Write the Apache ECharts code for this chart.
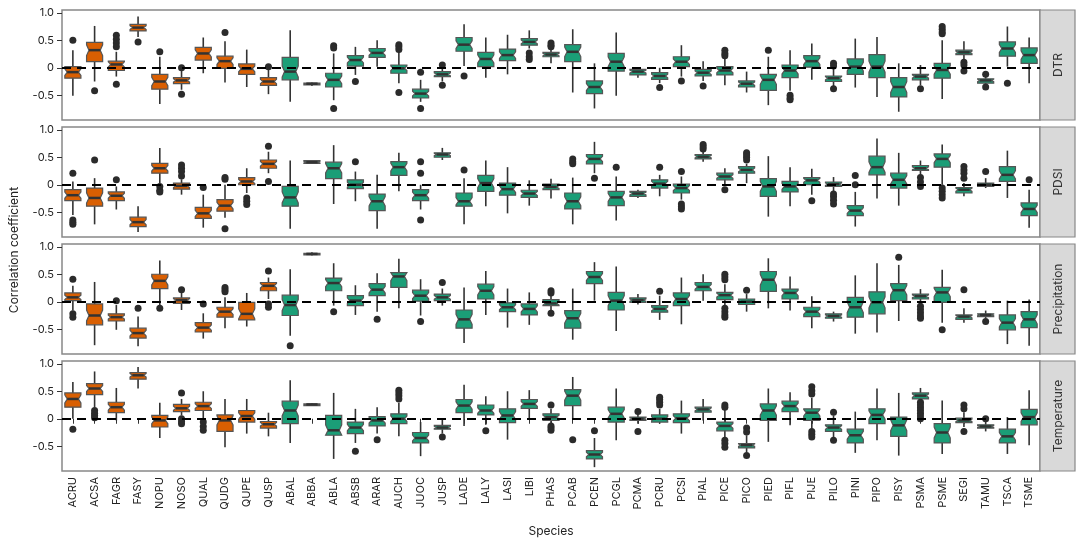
<!DOCTYPE html>
<html><head><meta charset="utf-8">
<script src="https://cdn.jsdelivr.net/npm/echarts@6/dist/echarts.min.js"></script>
<style>html,body{margin:0;padding:0;background:#fff}#c{width:1080px;height:545px}</style>
</head><body><div id="c"></div>
<script>
const species=["ACRU","ACSA","FAGR","FASY","NOPU","NOSO","QUAL","QUDG","QUPE","QUSP","ABAL","ABBA","ABLA","ABSB","ARAR","AUCH","JUOC","JUSP","LADE","LALY","LASI","LIBI","PHAS","PCAB","PCEN","PCGL","PCMA","PCRU","PCSI","PIAL","PICE","PICO","PIED","PIFL","PIJE","PILO","PINI","PIPO","PISY","PSMA","PSME","SEGI","TAMU","TSCA","TSME"];
const angiospermCount=10;
const facets=["DTR","PDSI","Precipitation","Temperature"];
const yTicks=[-0.5,0,0.5,1.0];

// [min, q1, median, q3, max] per species
const dtrStats=[[-0.51,-0.19,-0.08,0.02,0.32],[-0.25,0.11,0.32,0.46,0.76],[-0.16,-0.05,0.06,0.12,0.29],[0.56,0.67,0.73,0.79,0.93],[-0.66,-0.39,-0.25,-0.12,0.2],[-0.4,-0.29,-0.23,-0.18,-0.03],[-0.1,0.14,0.26,0.37,0.55],[-0.27,-0.01,0.12,0.21,0.48],[-0.35,-0.12,-0.02,0.07,0.33],[-0.48,-0.32,-0.25,-0.18,-0.04],[-0.62,-0.22,-0.07,0.19,0.68],[-0.33,-0.31,-0.29,-0.28,-0.27],[-0.59,-0.35,-0.22,-0.1,0.26],[-0.13,0.03,0.14,0.22,0.38],[0.02,0.19,0.27,0.35,0.5],[-0.28,-0.1,-0.01,0.05,0.29],[-0.62,-0.55,-0.47,-0.39,-0.22],[-0.25,-0.16,-0.12,-0.07,0.03],[0.03,0.3,0.42,0.55,0.79],[-0.18,0.02,0.16,0.28,0.55],[-0.12,0.13,0.23,0.34,0.6],[0.35,0.41,0.47,0.53,0.68],[0.08,0.2,0.24,0.28,0.33],[-0.45,0.11,0.29,0.42,0.7],[-0.74,-0.47,-0.35,-0.24,0.08],[-0.51,-0.06,0.11,0.26,0.64],[-0.18,-0.13,-0.07,-0.03,0.0],[-0.28,-0.21,-0.15,-0.09,0.0],[-0.16,0.02,0.11,0.2,0.41],[-0.24,-0.15,-0.09,-0.03,0.12],[-0.32,-0.13,-0.05,0.02,0.17],[-0.45,-0.35,-0.29,-0.24,-0.07],[-0.68,-0.41,-0.22,-0.12,0.2],[-0.42,-0.18,-0.05,0.05,0.32],[-0.22,0.01,0.12,0.22,0.44],[-0.35,-0.25,-0.19,-0.15,0.0],[-0.36,-0.12,0.02,0.16,0.53],[-0.53,-0.18,0.02,0.24,0.56],[-0.8,-0.53,-0.35,-0.18,0.08],[-0.32,-0.22,-0.16,-0.12,0.05],[-0.57,-0.19,-0.04,0.08,0.5],[0.15,0.24,0.28,0.32,0.48],[-0.3,-0.28,-0.23,-0.2,-0.16],[0.02,0.21,0.35,0.47,0.75],[-0.28,0.08,0.23,0.36,0.55]];
const dtrOut=[[0.5],[-0.42],[0.59,0.52,0.45,0.38,-0.3],[0.47],[0.29],[0.0,-0.48],[],[0.64],[],[0.02],[],[],[0.4,0.36,-0.74],[-0.25],[],[0.42,0.38,0.33,-0.45],[-0.08,-0.74],[0.05,-0.32],[-0.15],[],[],[0.27,0.2,0.15],[0.45,0.41,0.38],[],[],[],[],[-0.36],[-0.24],[-0.33],[0.32,0.26,0.22],[],[0.32],[-0.5,-0.55,-0.58],[],[0.08,0.03,-0.38],[],[],[],[-0.38],[0.75,0.7,0.65,0.62],[0.1,0.05,-0.06],[-0.12,-0.35],[-0.28],[]];

const pdsiStats=[[-0.55,-0.29,-0.19,-0.09,0.06],[-0.72,-0.39,-0.24,-0.06,0.12],[-0.45,-0.29,-0.2,-0.13,-0.03],[-0.86,-0.76,-0.68,-0.59,-0.39],[0.03,0.21,0.3,0.39,0.67],[-0.18,-0.08,-0.02,0.03,0.1],[-0.78,-0.61,-0.52,-0.41,-0.18],[-0.6,-0.48,-0.38,-0.27,0.0],[-0.15,0.0,0.06,0.13,0.3],[0.21,0.3,0.38,0.45,0.6],[-0.8,-0.39,-0.23,-0.03,0.44],[0.38,0.39,0.41,0.44,0.45],[-0.35,0.11,0.3,0.41,0.72],[-0.3,-0.07,0,0.09,0.24],[-0.8,-0.47,-0.3,-0.17,0.18],[-0.12,0.17,0.32,0.42,0.58],[-0.45,-0.29,-0.19,-0.09,0.0],[0.45,0.5,0.55,0.58,0.67],[-0.72,-0.39,-0.3,-0.15,0.12],[-0.39,-0.12,0.03,0.17,0.44],[-0.52,-0.19,-0.08,0.03,0.32],[-0.38,-0.23,-0.16,-0.1,0.08],[-0.25,-0.09,-0.04,0.01,0.11],[-0.72,-0.44,-0.3,-0.15,0.13],[0.21,0.38,0.47,0.55,0.78],[-0.65,-0.38,-0.23,-0.12,0.15],[-0.24,-0.21,-0.16,-0.12,-0.09],[-0.21,-0.06,0.02,0.09,0.18],[-0.27,-0.15,-0.06,0.01,0.15],[0.42,0.47,0.51,0.55,0.6],[0.0,0.09,0.15,0.21,0.3],[0.03,0.21,0.27,0.33,0.38],[-0.58,-0.21,-0.03,0.11,0.52],[-0.39,-0.13,-0.03,0.06,0.32],[-0.18,0,0.08,0.13,0.29],[-0.12,-0.03,0.01,0.05,0.14],[-0.76,-0.56,-0.47,-0.38,-0.13],[-0.25,0.18,0.32,0.52,0.84],[-0.38,-0.06,0.09,0.21,0.58],[0.18,0.26,0.3,0.35,0.44],[0.0,0.32,0.47,0.56,0.73],[-0.21,-0.15,-0.09,-0.05,0.03],[-0.06,-0.03,0,0.03,0.12],[-0.24,0.06,0.18,0.33,0.62],[-0.78,-0.56,-0.44,-0.33,-0.09]];
const pdsiOut=[[0.21,-0.64,-0.68,-0.72],[0.45],[0.09],[],[-0.03,-0.1,-0.13],[0.36,0.3,0.24,0.16],[-0.05],[0.1,0.13,-0.8],[-0.24,-0.3,-0.36],[0.7,0.06],[],[],[],[0.42],[],[],[0.42,0.21,-0.64],[],[0.27],[],[],[],[],[0.47,0.42,0.38],[0.12],[0.32],[],[0.32],[0.24,-0.35,-0.4,-0.44],[0.73,0.69,0.65],[-0.09],[0.58,0.54,0.5,0.45],[],[],[-0.29],[-0.17,-0.22,-0.28,-0.35],[0.17,0.0],[],[],[0.13,0.05,-0.03],[-0.06,-0.12,-0.18,-0.24],[0.33,0.27,0.21,0.12],[0.24],[],[0.09]];

const precipStats=[[-0.16,0.02,0.08,0.16,0.29],[-0.79,-0.42,-0.25,-0.04,0.36],[-0.51,-0.35,-0.28,-0.22,-0.06],[-0.81,-0.66,-0.57,-0.48,-0.27],[-0.07,0.24,0.38,0.5,0.75],[-0.15,-0.03,0.03,0.07,0.17],[-0.67,-0.55,-0.47,-0.38,-0.21],[-0.48,-0.28,-0.18,-0.1,0.08],[-0.45,-0.33,-0.22,-0.01,0.16],[0.05,0.2,0.29,0.35,0.44],[-0.62,-0.25,-0.06,0.12,0.59],[0.84,0.85,0.87,0.88,0.9],[-0.07,0.2,0.34,0.43,0.7],[-0.24,-0.07,0.02,0.11,0.3],[-0.18,0.11,0.22,0.33,0.52],[-0.12,0.26,0.46,0.53,0.78],[-0.25,0.01,0.11,0.21,0.41],[-0.07,0.02,0.08,0.14,0.24],[-0.75,-0.48,-0.32,-0.15,0.26],[-0.24,0.05,0.2,0.32,0.56],[-0.47,-0.18,-0.1,-0.02,0.24],[-0.42,-0.24,-0.13,-0.04,0.17],[-0.15,-0.07,-0.03,0.04,0.11],[-0.69,-0.48,-0.3,-0.16,0.24],[0.02,0.33,0.45,0.55,0.72],[-0.53,-0.15,0.02,0.17,0.64],[-0.05,-0.01,0.03,0.07,0.14],[-0.33,-0.19,-0.13,-0.07,0.11],[-0.41,-0.07,0.05,0.16,0.44],[0.02,0.2,0.27,0.35,0.5],[-0.06,0.04,0.12,0.17,0.32],[-0.18,-0.05,0,0.05,0.14],[-0.12,0.19,0.4,0.55,0.79],[-0.16,0.05,0.16,0.23,0.46],[-0.48,-0.27,-0.18,-0.1,0.1],[-0.36,-0.3,-0.26,-0.22,-0.18],[-0.58,-0.28,-0.1,0.08,0.48],[-0.56,-0.22,-0.01,0.18,0.7],[-0.35,0.02,0.21,0.33,0.67],[-0.04,0.05,0.1,0.14,0.23],[-0.38,-0.01,0.17,0.26,0.58],[-0.38,-0.32,-0.27,-0.24,-0.12],[-0.3,-0.27,-0.24,-0.22,-0.16],[-0.77,-0.51,-0.38,-0.24,0.02],[-0.8,-0.47,-0.32,-0.18,0.04]];
const precipOut=[[0.41,-0.22,-0.28],[],[0.02],[-0.12],[-0.12],[0.22],[-0.04],[0.26,0.22,0.18],[],[0.56,-0.04,-0.1],[-0.8],[],[-0.18],[],[-0.32],[],[-0.36],[0.35],[],[],[],[],[0.2,0.16,-0.21],[],[],[],[],[0.19],[],[],[0.5,0.45,0.4,-0.12,-0.18,-0.24,-0.28],[0.21],[],[],[],[],[],[],[0.81],[-0.08,-0.14,-0.2,-0.26,-0.3],[-0.51],[0.22],[-0.36],[],[]];

const tempStats=[[0.0,0.21,0.36,0.47,0.67],[0.21,0.44,0.55,0.64,0.86],[-0.03,0.11,0.21,0.3,0.56],[0.55,0.72,0.79,0.84,0.94],[-0.35,-0.15,-0.03,0.06,0.29],[0.06,0.13,0.19,0.26,0.36],[0.0,0.15,0.23,0.3,0.5],[-0.52,-0.23,-0.03,0.07,0.36],[-0.27,-0.06,0.05,0.15,0.36],[-0.32,-0.17,-0.1,-0.05,0.11],[-0.44,-0.09,0.15,0.32,0.7],[0.23,0.24,0.26,0.27,0.28],[-0.73,-0.3,-0.21,0.06,0.47],[-0.44,-0.27,-0.16,-0.06,0.18],[-0.27,-0.13,-0.03,0.04,0.21],[-0.32,-0.09,0,0.09,0.29],[-0.68,-0.44,-0.35,-0.25,-0.06],[-0.27,-0.19,-0.16,-0.12,0],[-0.13,0.11,0.24,0.35,0.62],[-0.11,0.07,0.15,0.25,0.41],[-0.38,-0.07,0.06,0.18,0.5],[0,0.19,0.27,0.35,0.52],[-0.09,-0.03,0.03,0.09,0.18],[0,0.24,0.42,0.53,0.76],[-0.88,-0.73,-0.65,-0.58,-0.35],[-0.39,-0.06,0.09,0.21,0.55],[-0.09,-0.03,0,0.03,0.09],[-0.09,-0.06,0,0.07,0.18],[-0.27,-0.07,0.01,0.09,0.33],[-0.03,0.12,0.17,0.21,0.36],[-0.35,-0.22,-0.13,-0.06,0.17],[-0.61,-0.53,-0.48,-0.45,-0.3],[-0.42,-0.03,0.15,0.27,0.55],[-0.12,0.13,0.23,0.32,0.48],[-0.18,-0.03,0.11,0.18,0.38],[-0.35,-0.23,-0.16,-0.11,0.06],[-0.62,-0.44,-0.3,-0.19,0.13],[-0.39,-0.09,0.07,0.18,0.55],[-0.67,-0.32,-0.12,0.03,0.47],[0.33,0.36,0.42,0.47,0.56],[-0.64,-0.44,-0.25,-0.09,0.33],[-0.15,-0.07,-0.03,0.01,0.12],[-0.23,-0.17,-0.14,-0.11,-0.03],[-0.64,-0.44,-0.32,-0.19,0.03],[-0.48,-0.11,0.03,0.17,0.52]];
const tempOut=[[-0.19],[0.15,0.1,0.06,0.02],[],[],[],[0.47,0.0,-0.05,-0.09],[-0.06,-0.14,-0.21],[],[],[],[],[],[],[-0.59],[-0.38],[0.52,0.47,0.42,0.36],[],[-0.33],[],[-0.22],[],[],[0.25,-0.13,-0.17,-0.21],[-0.38],[-0.22],[],[0.13,-0.23],[0.39,0.35,0.3,0.25],[],[],[0.25,0.21,-0.39,-0.45,-0.52],[-0.17,-0.24,-0.67],[],[],[0.58,0.51,0.45,-0.23,-0.28,-0.33],[0.12,-0.39],[],[],[],[0.3,0.25,0.2,0.15,0.1,0.05,0.0],[],[0.25,0.18,-0.23],[0.0],[],[]];

const allStats=[dtrStats,pdsiStats,precipStats,tempStats];
const allOut=[dtrOut,pdsiOut,precipOut,tempOut];

const ORANGE='#d95f02', GREEN='#1b9e77', EDGE='#333';
const tops=[10,127,244,361], H=110, L=62, R=40;
const chart=echarts.init(document.getElementById('c'));

function renderBox(params,api){
  const i=api.value(0), mn=api.value(1), q1=api.value(2), md=api.value(3), q3=api.value(4), mx=api.value(5);
  const iqr=q3-q1;
  const nh=Math.min(iqr*0.28, 0.1);
  const nu=Math.min(q3, md+nh), nl=Math.max(q1, md-nh);
  const bw=api.size([1,0])[0]*0.74, hw=bw/2, ind=bw*0.15;
  const cx=api.coord([i,md])[0];
  const y=v=>api.coord([i,v])[1];
  const fill=i<angiospermCount?ORANGE:GREEN;
  const pts=[[cx-hw,y(q3)],[cx+hw,y(q3)],[cx+hw,y(nu)],[cx+hw-ind,y(md)],[cx+hw,y(nl)],[cx+hw,y(q1)],[cx-hw,y(q1)],[cx-hw,y(nl)],[cx-hw+ind,y(md)],[cx-hw,y(nu)]];
  return {type:'group',children:[
    {type:'line',shape:{x1:cx,y1:y(mx),x2:cx,y2:y(mn)},style:{stroke:EDGE,lineWidth:1.6}},
    {type:'polygon',shape:{points:pts},style:{fill:fill,stroke:'#555',lineWidth:1.2}},
    {type:'line',shape:{x1:cx-hw+ind,y1:y(md),x2:cx+hw-ind,y2:y(md)},style:{stroke:EDGE,lineWidth:2.5}}
  ]};
}

const grid=[],xAxis=[],yAxis=[],series=[],graphic=[];
facets.forEach((f,k)=>{
  grid.push({left:L,right:R,top:tops[k],height:H,show:true,borderColor:'#888',borderWidth:1.5,backgroundColor:'#fff'});
  xAxis.push({type:'category',gridIndex:k,data:species,boundaryGap:true,
    axisLine:{show:false},axisTick:{show:k===3,alignWithLabel:true,lineStyle:{color:'#333'}},
    axisLabel:{show:k===3,rotate:90,fontSize:11,color:'#222',fontFamily:'Inter, sans-serif',margin:6}});
  yAxis.push({type:'value',gridIndex:k,min:-0.95,max:1.05,splitLine:{show:false},
    axisLine:{show:false},axisTick:{show:true,customValues:yTicks,lineStyle:{color:'#333'}},
    axisLabel:{customValues:yTicks,fontSize:11,color:'#222',fontFamily:'Inter, sans-serif',formatter:v=>v===0?'0':v.toFixed(1)}});
  series.push({type:'custom',xAxisIndex:k,yAxisIndex:k,renderItem:renderBox,
    data:allStats[k].map((s,i)=>[i].concat(s)),z:3,
    markLine:{silent:true,symbol:'none',label:{show:false},lineStyle:{color:'#000',type:[9,6],width:2.2},data:[{yAxis:0}],z:5}});
  const pts=[];
  allOut[k].forEach((arr,i)=>arr.forEach(v=>pts.push([i,v])));
  series.push({type:'scatter',xAxisIndex:k,yAxisIndex:k,data:pts,symbolSize:7,itemStyle:{color:'#2b2b2b',opacity:1},z:4});
  graphic.push({type:'rect',shape:{x:1040,y:tops[k],width:35,height:H},style:{fill:'#d9d9d9',stroke:'#888',lineWidth:1.2}});
  graphic.push({type:'text',x:1058,y:tops[k]+H/2,rotation:Math.PI/2,style:{text:f,fill:'#333',fontSize:12,fontFamily:'Inter, sans-serif',align:'center',verticalAlign:'middle'}});
});
graphic.push({type:'text',x:14,y:250,rotation:Math.PI/2,style:{text:'Correlation coefficient',fill:'#222',fontSize:12,fontFamily:'Inter, sans-serif',align:'center',verticalAlign:'middle'}});
graphic.push({type:'text',x:551,y:531,style:{text:'Species',fill:'#222',fontSize:12,fontFamily:'Inter, sans-serif',align:'center',verticalAlign:'middle'}});

chart.setOption({animation:false,grid,xAxis,yAxis,series,graphic});
</script></body></html>
